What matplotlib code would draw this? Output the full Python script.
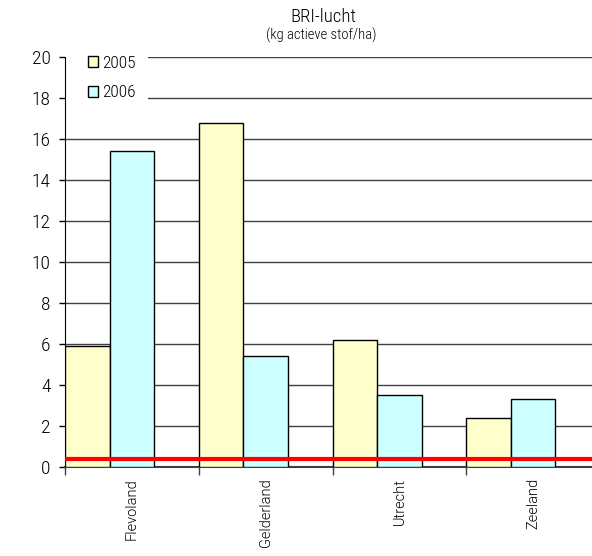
import numpy as np
import matplotlib
matplotlib.use("Agg")
from matplotlib import pyplot as plt
from matplotlib.patches import Patch, Rectangle

plt.rcParams["font.family"] = ["Roboto Condensed", "DejaVu Sans"]
plt.rcParams["font.weight"] = 300

# province values, kg active substance per ha
provinces = ["Flevoland", "Gelderland", "Utrecht", "Zeeland"]
years = ["2005", "2006"]
values_2005 = [5.9, 16.8, 6.2, 2.4]
values_2006 = [15.4, 5.4, 3.5, 3.3]
norm_level = 0.4

yticks = list(range(0, 21, 2))
colors = ["#FFFFCC", "#CCFFFF"]

fig = plt.figure(figsize=(5.92, 5.56), dpi=100)
ax = fig.add_axes([0.110, 0.160, 0.9035, 0.7375])

x = np.arange(len(provinces))
w = 1 / 3
ax.bar(x - 0.5, values_2005, width=w, align="edge", color=colors[0],
       edgecolor="black", linewidth=1, zorder=3)
ax.bar(x - 0.5 + w, values_2006, width=w, align="edge", color=colors[1],
       edgecolor="black", linewidth=1, zorder=3)

# red reference line across the whole plot
ax.axhline(norm_level, color="#FF0000", linewidth=3, zorder=4)

ax.set_xlim(-0.5, len(provinces) - 0.5)
ax.set_ylim(0, 20)
ax.set_yticks(yticks)
ax.tick_params(axis="y", direction="out", length=4.5, width=1, labelsize=14,
               pad=6, colors="black")
ax.yaxis.grid(True, color="#404040", linewidth=1)
ax.set_axisbelow(True)

# ticks on category boundaries, labels at category centres
ax.set_xticks(x - 0.5)
ax.set_xticklabels([])
ax.tick_params(axis="x", which="major", direction="out", length=6, width=1,
               color="#404040")
ax.set_xticks(x, minor=True)
ax.set_xticklabels(provinces, minor=True, rotation=90, fontsize=10.5,
                   family=["Roboto", "DejaVu Sans"], fontweight=300, va="top")
ax.tick_params(axis="x", which="minor", length=0, pad=8)

for s in ("top", "right"):
    ax.spines[s].set_visible(False)
ax.spines["left"].set_color("black")
ax.spines["bottom"].set_color("#404040")
ax.spines["bottom"].set_linewidth(1.5)

fig.text(0.547, 0.969, "BRI-lucht", ha="center", va="center", fontsize=13.5)
fig.text(0.543, 0.937, "(kg actieve stof/ha)", ha="center", va="center", fontsize=10.5)

# white background behind the legend, hiding the top gridlines
ax.add_patch(Rectangle((0, 0.893), 0.155, 0.13, transform=ax.transAxes,
                       facecolor="white", edgecolor="none", zorder=2, clip_on=False))

handles = [Patch(facecolor=c, edgecolor="black", linewidth=1) for c in colors]
ax.legend(handles, years, loc="upper left", bbox_to_anchor=(0.036, 1.011),
          frameon=False, handlelength=0.6, handleheight=0.6, handletextpad=0.25,
          labelspacing=0.82, fontsize=12.5, borderpad=0.2, borderaxespad=0)

fig.savefig("out.png", dpi=100)
